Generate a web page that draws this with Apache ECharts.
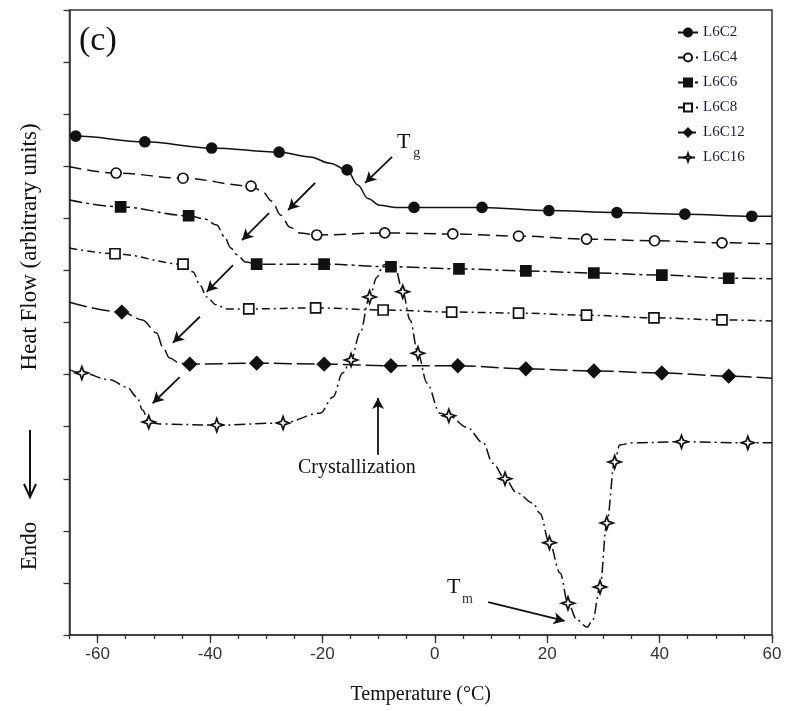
<!DOCTYPE html>
<html>
<head>
<meta charset="utf-8">
<script src="https://cdn.jsdelivr.net/npm/echarts@6/dist/echarts.min.js"></script>
<style>html,body{margin:0;padding:0;background:#fff}#c{width:785px;height:711px}</style>
</head>
<body>
<div id="c"></div>
<script>
// ---- data (Temperature °C, heat flow arbitrary units) ----
const seriesNames = ['L6C2', 'L6C4', 'L6C6', 'L6C8', 'L6C12', 'L6C16'];
const xTickLabels = [-60, -40, -20, 0, 20, 40, 60];

const l6c2 = [[-65,9.60],[-63.9,9.58],[-51.6,9.47],[-39.7,9.35],[-27.7,9.27],[-22.2,9.18],[-18.7,9.06],[-15.6,8.93],[-13.7,8.64],[-11.9,8.38],[-9.8,8.25],[-7.1,8.21],[-3.7,8.21],[8.4,8.21],[20.3,8.15],[32.4,8.11],[44.5,8.08],[56.4,8.04],[60,8.04]];
const l6c2Marks = [-63.9,-51.6,-39.7,-27.7,-15.6,-3.7,8.4,20.3,32.4,44.5,56.4];

const l6c4 = [[-65,8.99],[-56.7,8.87],[-44.8,8.77],[-32.7,8.62],[-30.8,8.53],[-29.0,8.33],[-27.4,8.06],[-25.8,7.83],[-24.0,7.72],[-21.0,7.68],[-8.9,7.72],[3.2,7.70],[14.9,7.66],[27.0,7.60],[39.1,7.57],[51.1,7.53],[60,7.51]];
const l6c4Marks = [-56.7,-44.8,-32.7,-21.0,-8.9,3.2,14.9,27.0,39.1,51.1];

const l6c6 = [[-65,8.35],[-55.9,8.22],[-43.8,8.05],[-41.0,7.99],[-38.8,7.87],[-37.4,7.64],[-36.3,7.43],[-35.2,7.30],[-33.6,7.16],[-31.7,7.12],[-19.7,7.12],[-7.8,7.07],[4.3,7.03],[16.2,6.99],[28.3,6.95],[40.4,6.91],[52.3,6.85],[60,6.84]];
const l6c6Marks = [-55.9,-43.8,-31.7,-19.7,-7.8,4.3,16.2,28.3,40.4,52.3];

const l6c8 = [[-65,7.43],[-56.9,7.32],[-44.8,7.12],[-43.0,6.97],[-41.8,6.72],[-40.6,6.49],[-38.9,6.34],[-37.0,6.26],[-33.1,6.26],[-21.2,6.28],[-9.2,6.24],[3.0,6.20],[14.9,6.18],[27.0,6.14],[39.0,6.09],[51.1,6.05],[60,6.03]];
const l6c8Marks = [-56.9,-44.8,-33.1,-21.2,-9.2,3.0,14.9,27.0,39.0,51.1];

const l6c12 = [[-65,6.39],[-55.7,6.20],[-52.0,6.05],[-49.5,5.80],[-48.4,5.53],[-47.2,5.32],[-45.4,5.22],[-43.6,5.20],[-31.7,5.22],[-19.7,5.20],[-7.8,5.17],[4.1,5.17],[16.2,5.11],[28.3,5.07],[40.4,5.03],[52.3,4.97],[60,4.93]];
const l6c12Marks = [-55.7,-43.6,-31.7,-19.7,-7.8,4.1,16.2,28.3,40.4,52.3];

const l6c16 = [[-65,5.09],[-62.8,5.03],[-57.8,4.90],[-54.8,4.76],[-53.0,4.57],[-52.0,4.32],[-50.9,4.09],[-48.9,4.05],[-38.8,4.03],[-27.0,4.07],[-20.4,4.26],[-18.1,4.57],[-16.4,5.03],[-14.9,5.28],[-13.3,5.80],[-11.6,6.49],[-10.3,6.87],[-9.2,7.10],[-8.3,7.14],[-7.1,7.07],[-5.7,6.59],[-4.4,6.05],[-3.0,5.41],[-1.4,4.84],[0.9,4.26],[2.5,4.21],[5.7,3.99],[8.6,3.69],[10.3,3.30],[12.5,3.00],[14.6,2.73],[17.5,2.53],[18.7,2.34],[20.4,1.77],[22.3,1.19],[23.7,0.61],[25.3,0.29],[27.1,0.15],[28.1,0.29],[29.4,0.92],[30.6,2.15],[32.0,3.32],[32.9,3.65],[35.2,3.69],[43.9,3.71],[55.7,3.69],[60,3.69]];
const l6c16Marks = [-62.8,-50.9,-38.8,-27.0,-14.9,-11.6,-5.7,-3.0,2.5,12.5,20.4,23.7,29.4,30.6,32.0,43.9,55.7];

// annotation arrows in data coordinates [from, to]
const arrows = [
  [[-7.6,9.18],[-12.4,8.68]],
  [[-21.3,8.68],[-26.1,8.16]],
  [[-29.5,8.10],[-34.3,7.58]],
  [[-35.9,7.10],[-40.6,6.59]],
  [[-41.8,6.11],[-46.6,5.61]],
  [[-45.4,4.95],[-50.2,4.45]],
  [[-10.1,3.46],[-10.1,4.55]],
  [[9.5,0.63],[23.1,0.27]]
];

const SERIF = '"Liberation Serif", "Times New Roman", serif';
const SANS = '"Liberation Sans", Arial, sans-serif';
const STAR = 'path://M0,-10L2.6,-2.6L10,0L2.6,2.6L0,10L-2.6,2.6L-10,0L-2.6,-2.6Z';

function mk(pts, marks) {
  return pts.map(p => marks.indexOf(p[0]) >= 0 ? { value: p } : { value: p, symbol: 'none' });
}

const styles = [
  { d: l6c2, m: l6c2Marks, symbol: 'circle', size: 10, fill: '#111', dash: 'solid' },
  { d: l6c4, m: l6c4Marks, symbol: 'circle', size: 10, fill: '#fff', dash: [12, 6] },
  { d: l6c6, m: l6c6Marks, symbol: 'rect', size: 10, fill: '#111', dash: [13, 4, 3, 4] },
  { d: l6c8, m: l6c8Marks, symbol: 'rect', size: 10, fill: '#fff', dash: [8, 4, 2, 4] },
  { d: l6c12, m: l6c12Marks, symbol: 'diamond', size: 13, fill: '#111', dash: [18, 5] },
  { d: l6c16, m: l6c16Marks, symbol: STAR, size: 13, fill: '#fff', dash: [11, 4, 2, 4] }
];

const series = styles.map((s, i) => ({
  name: seriesNames[i],
  type: 'line',
  data: mk(s.d, s.m),
  smooth: 0.35,
  smoothMonotone: 'x',
  symbol: s.symbol,
  symbolSize: s.size,
  showSymbol: true,
  showAllSymbol: true,
  lineStyle: { color: '#111', width: 1.5, type: s.dash },
  itemStyle: { color: s.fill, borderColor: '#111', borderWidth: 1.7 },
  emphasis: { disabled: true },
  animation: false,
  z: 3
}));

series.push({
  name: 'arrows',
  type: 'line',
  data: [],
  xAxisIndex: 0,
  yAxisIndex: 0,
  markLine: {
    silent: true,
    animation: false,
    symbol: ['none', 'arrow'],
    symbolSize: [9, 11],
    label: { show: false },
    lineStyle: { color: '#111', width: 1.8, type: 'solid' },
    data: arrows.map(a => [{ coord: a[0] }, { coord: a[1] }])
  }
});

const chart = echarts.init(document.getElementById('c'), null, { renderer: 'canvas' });
chart.setOption({
  animation: false,
  backgroundColor: '#fff',
  grid: { left: 69.5, right: 13, top: 10, bottom: 76, show: true, borderColor: '#333', borderWidth: 1.5, backgroundColor: 'transparent' },
  xAxis: [{
    type: 'value', min: -65, max: 60, interval: 5,
    name: 'Temperature (°C)', nameLocation: 'middle', nameGap: 50,
    nameTextStyle: { fontFamily: SERIF, fontSize: 20, color: '#111' },
    axisLine: { onZero: false, lineStyle: { color: '#333', width: 1.5 } },
    axisTick: { inside: false, length: 4, lineStyle: { color: '#333', width: 1.3 } },
    axisLabel: {
      margin: 11, fontFamily: SANS, fontSize: 17, color: '#333',
      formatter: v => (xTickLabels.indexOf(v) >= 0 ? String(v) : '')
    },
    splitLine: { show: false }
  }, {
    type: 'value', min: -65, max: 60, position: 'bottom',
    axisLine: { show: false, onZero: false },
    axisTick: { show: true, length: 8, customValues: xTickLabels, lineStyle: { color: '#333', width: 1.3 } },
    axisLabel: { show: false },
    splitLine: { show: false }
  }],
  yAxis: {
    type: 'value', min: 0, max: 12, interval: 1,
    axisLine: { show: true, onZero: false, lineStyle: { color: '#333', width: 1.5 } },
    axisTick: { show: true, inside: false, length: 6, lineStyle: { color: '#333', width: 1.3 } },
    axisLabel: { show: false },
    splitLine: { show: false }
  },
  legend: {
    data: seriesNames,
    orient: 'vertical',
    left: 672, top: 20,
    itemWidth: 20, itemHeight: 10, itemGap: 10,
    textStyle: { fontFamily: SERIF, fontSize: 15, color: '#1c1c30' },
    selectedMode: false
  },
  series: series,
  graphic: [
    { type: 'text', left: 79, top: 24, style: { text: '(c)', font: '34px ' + SERIF, fill: '#111' } },
    { type: 'text', left: 397, top: 131, style: { text: 'T', font: '22px ' + SERIF, fill: '#1a1010' } },
    { type: 'text', left: 413, top: 146, style: { text: 'g', font: '15px ' + SERIF, fill: '#333' } },
    { type: 'text', left: 447, top: 576, style: { text: 'T', font: '22px ' + SERIF, fill: '#1a1010' } },
    { type: 'text', left: 462, top: 592, style: { text: 'm', font: '14px ' + SERIF, fill: '#333' } },
    { type: 'text', left: 298, top: 458, style: { text: 'Crystallization', font: '20px ' + SERIF, fill: '#111' } },
    { type: 'text', x: 30, y: 247, rotation: Math.PI / 2, style: { text: 'Heat Flow (arbitrary units)', font: '23px ' + SERIF, fill: '#111', align: 'center', verticalAlign: 'middle' } },
    { type: 'text', x: 30, y: 546, rotation: Math.PI / 2, style: { text: 'Endo', font: '23px ' + SERIF, fill: '#111', align: 'center', verticalAlign: 'middle' } },
    { type: 'line', shape: { x1: 30, y1: 430, x2: 30, y2: 496 }, style: { stroke: '#111', lineWidth: 2 } },
    { type: 'polyline', shape: { points: [[24, 484], [30, 497], [36, 484]] }, style: { stroke: '#111', lineWidth: 2, fill: null } }
  ]
});
</script>
</body>
</html>
